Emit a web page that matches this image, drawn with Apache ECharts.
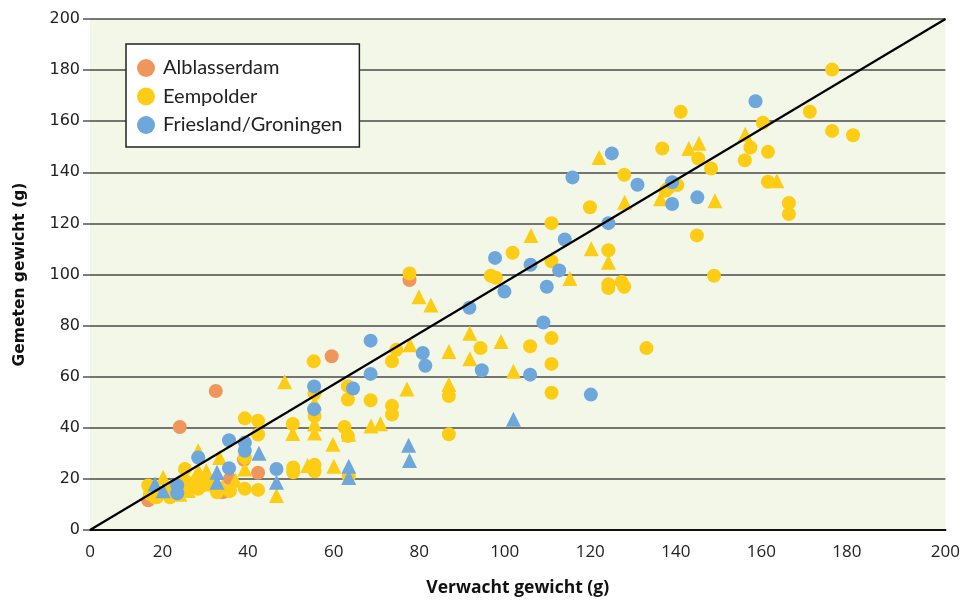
<!DOCTYPE html>
<html><head><meta charset="utf-8">
<script src="https://cdn.jsdelivr.net/npm/echarts@6/dist/echarts.min.js"></script>
<style>html,body{margin:0;padding:0;background:#fff}#c{width:963px;height:602px}</style>
</head><body><div id="c"></div>
<script>
// ---- data (expected weight [g], measured weight [g]) ----
const xTicks = [0,20,40,60,80,100,120,140,160,180,200];
const yTicks = [0,20,40,60,80,100,120,140,160,180,200];
const seriesNames = ['Alblasserdam','Eempolder','Friesland/Groningen'];

const alblasserdam = [
 [13.6,11.6],[21,40.3],[29.4,54.4],[31,14.8],[32.7,20],[36,27.5],[39.3,22.4],[56.5,68],[74.7,97.8]
];
const eempolderCircles = [
 [13.6,17.4],[14,14.1],[15.2,12.8],[15.6,12.8],[18.3,14.8],[18.7,12.8],[22.2,23.9],[22.2,19.3],[22.9,16.1],
 [24.9,19.3],[25.3,16.1],[26.1,17.4],[27.6,19.3],[29.7,14.8],[32.7,15.2],[36.2,16.1],[39.3,15.7],[36.2,28.4],
 [47.5,24.5],[47.5,22.6],[52.5,25.5],[52.5,23],[60.5,21],
 [36.2,43.7],[39.3,42.8],[39.3,37.4],[47.4,41.5],[52.3,66],[52.5,53.5],[52.5,44.6],[59.5,40.3],[60.3,36.8],
 [60.3,56.3],[60.3,51.1],[65.6,50.8],[70.6,48.6],[70.6,45.2],[70.6,66],[71.6,70.5],[74.7,100.4],[83.9,52.4],
 [83.9,37.5],[91.3,71.2],[93.7,99.5],[94.9,98.7],[98.8,108.5],[102.9,71.9],[107.9,105.2],[107.9,75.1],
 [107.9,65],[107.9,53.7],[107.9,120.1],[116.9,126.3],[121.2,109.5],[121.2,96.2],[121.2,94.7],[124.3,97.1],
 [124.9,95.2],[124.9,139],[130.1,71.2],[133.8,149.3],[134.6,132.8],[135,133.5],[137.3,135],[138.1,163.7],
 [141.9,115.3],[142.2,145.4],[145.2,141.5],[145.9,99.5],[153.1,144.7],[154.4,149.7],[157.3,159.4],
 [158.5,148],[158.5,136.3],[163.4,128],[163.4,123.7],[168.3,163.7],[173.5,180.2],[173.5,156.2],[178.4,154.5]
];
const eempolderTriangles = [
 [16.5,15],[17.1,20.6],[19,17],[21,14],[23,15.5],[25.3,23.2],[27.2,23.2],[27,18],[31,17],[34,19.5],
 [25.3,31],[30.3,28.4],[36.2,23.9],[43.6,13.5],[50.9,25.2],[45.5,58],[47.4,37.8],[52.5,49.8],[52.5,41.5],
 [52.5,38],[56.8,33.6],[57,25],[60.5,37.5],[65.7,40.7],[67.9,41.6],[74.1,55.2],[74.8,72.5],[76.9,91.3],
 [79.7,88.1],[83.9,69.9],[83.9,56.9],[88.8,77],[88.8,67],[96.1,73.8],[99,62.1],[103.1,115.3],[112.2,98.4],
 [117.2,110.1],[119,145.8],[121.2,104.8],[125,128.3],[133.4,129.6],[140,149.3],[142.4,151.4],[146.1,128.9],
 [153.2,154.9],[160.6,136.7]
];
const frieslandCircles = [
 [20.4,17.4],[20.4,14.4],[25.3,28.4],[32.5,35.1],[32.5,24.2],[36.2,34.2],[36.2,31],[43.6,23.9],[52.4,56.2],
 [52.4,47.3],[61.5,55.4],[65.6,74.1],[65.6,61.1],[77.8,69.3],[78.4,64.3],[88.7,87],[91.6,62.5],[94.7,106.5],
 [96.9,93.3],[102.9,60.8],[103,103.8],[106,81.2],[106.8,95.2],[109.7,101.6],[111,113.7],[112.8,138],
 [117.1,53],[121.2,120.1],[122,147.4],[128,135.1],[136.1,136.1],[136.1,127.6],[142,130.2],[155.6,167.8]
];
const frieslandTriangles = [
 [15.2,18],[17.1,15.4],[29.7,22.6],[29.7,18.7],[39.5,30],[43.6,18.7],[60.5,25],[60.5,20.5],[74.5,33.2],
 [74.7,27.2],[99,43.3]
];
const identityLine = [[0,0],[200,200]];

// ---- chart ----
const C_OR = '#ee965c', C_YE = '#fccd14', C_BL = '#6ea7dc';
const chart = echarts.init(document.getElementById('c'), null, {renderer:'canvas'});
function sc(name, data, color, symbol, z){
  return {type:'scatter', name, data, symbol, symbolSize: symbol==='triangle'?15:14,
    itemStyle:{color, opacity:1}, z, silent:true, animation:false};
}
const xLabelFont = '"Liberation Sans Narrow", "Open Sans", sans-serif';
chart.setOption({
  animation:false,
  grid:{left:90, right:16, top:19, bottom:69, show:true, backgroundColor:'#f3f7e7', borderWidth:0},
  legend:{
    data: seriesNames.map(n=>({name:n, icon:'circle'})),
    orient:'vertical', left:126, top:44,
    backgroundColor:'#fff', borderColor:'#222', borderWidth:1.5,
    padding:[14,17,12,11], itemWidth:18, itemHeight:18, itemGap:8.5,
    textStyle:{fontFamily:'Lato, "Open Sans", sans-serif', fontSize:20, lineHeight:20, color:'#222', padding:[0,0,0,3]},
    selectedMode:false
  },
  xAxis:{
    type:'value', min:xTicks[0], max:xTicks[xTicks.length-1], interval:20,
    name:'Verwacht gewicht (g)', nameLocation:'middle', nameGap:49,
    nameTextStyle:{fontFamily:xLabelFont, fontWeight:'bold', fontSize:17.5, color:'#111'},
    axisLine:{show:true, onZero:false, lineStyle:{color:'#111', width:2}},
    axisTick:{show:false},
    axisLabel:{fontFamily:xLabelFont, fontSize:17, color:'#222', margin:14,
      formatter:(v)=> (v===xTicks[0]||v===xTicks[xTicks.length-1]) ? '{e|'+v+'}' : '{m|'+v+'}',
      rich:{e:{fontFamily:xLabelFont, fontSize:17, color:'#222'},
            m:{fontFamily:xLabelFont, fontSize:17, color:'#222', padding:[0,26,0,0]}}},
    splitLine:{show:false}
  },
  yAxis:{
    type:'value', min:yTicks[0], max:yTicks[yTicks.length-1], interval:20,
    name:'Gemeten gewicht (g)', nameLocation:'middle', nameGap:62, nameRotate:90,
    nameTextStyle:{fontFamily:'"DejaVu Sans", sans-serif', fontWeight:'bold', fontSize:15.5, color:'#111'},
    axisLine:{show:false},
    axisTick:{show:true, length:7, lineStyle:{color:'#555', width:1.5}},
    axisLabel:{fontFamily:'"DejaVu Sans", sans-serif', fontSize:16, color:'#222', margin:10},
    splitLine:{show:true, lineStyle:{color:'#4a4a4a', width:1.5}}
  },
  series:[
    sc(seriesNames[0], alblasserdam, C_OR, 'circle', 2),
    sc(seriesNames[1], eempolderCircles, C_YE, 'circle', 3),
    sc('Eempolder (driehoek)', eempolderTriangles, C_YE, 'triangle', 3),
    sc(seriesNames[2], frieslandCircles, C_BL, 'circle', 4),
    sc('Friesland/Groningen (driehoek)', frieslandTriangles, C_BL, 'triangle', 4),
    {type:'line', name:'1:1', data:identityLine, showSymbol:false, symbol:'none',
     lineStyle:{color:'#000', width:2.2}, z:5, silent:true, animation:false}
  ]
});
</script></body></html>
